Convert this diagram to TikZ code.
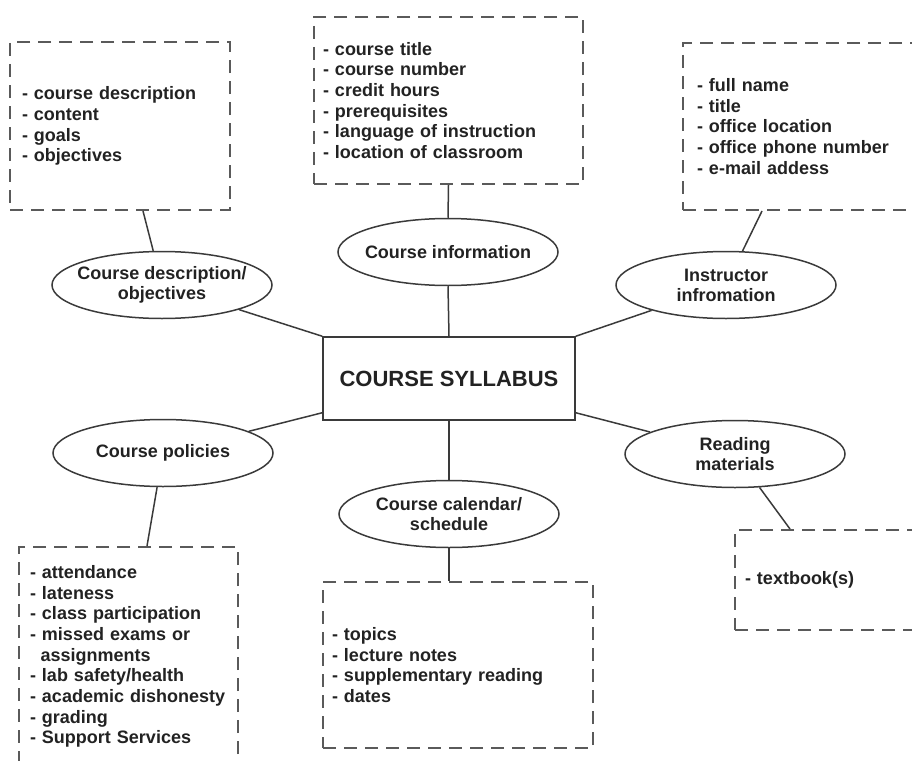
\documentclass[tikz,border=0pt]{standalone}
\usepackage{fontspec}
\setmainfont{Liberation Sans}
\usetikzlibrary{shapes.geometric}
\definecolor{ink}{HTML}{222222}
\definecolor{wire}{HTML}{3A3A3A}
\definecolor{dashgray}{HTML}{5A5A5A}
\begin{document}
\begin{tikzpicture}[x=1pt,y=-1pt,
  every node/.style={text=ink},
  listbox/.style={draw=dashgray, line width=2pt, dash pattern=on 13pt off 8pt,
    rectangle, align=left, inner ysep=0pt,
    font=\fontsize{18}{20.7}\selectfont\bfseries},
  bubble/.style={draw=wire, line width=1.5pt, ellipse,
    minimum width=220pt, minimum height=67pt, inner sep=0pt},
  bubbletext/.style={align=center, inner sep=0pt,
    font=\fontsize{18}{20}\selectfont\bfseries},
  hubbox/.style={draw=wire, line width=1.5pt, rectangle,
    minimum width=252pt, minimum height=83pt, inner sep=0pt,
    font=\fontsize{22}{26}\selectfont\bfseries},
  link/.style={draw=wire, line width=1.5pt}]

\useasboundingbox (0,0) rectangle (912,760);
\clip (0,0) rectangle (912,760);

% central box
\node[hubbox] (cs) at (449,378.5) {COURSE SYLLABUS};

% topic bubbles
\node[bubble] (descell) at (162,285) {};
\node[bubbletext] (desct) at (descell) {Course description/\\objectives};
\node[bubble] (infoell) at (448,252) {};
\node[bubbletext] (infot) at (infoell) {Course information};
\node[bubble] (instell) at (726,285) {};
\node[bubbletext] (instt) at (instell) {Instructor\\infromation};
\node[bubble] (polell) at (163,453) {};
\node[bubbletext] (polt) at (polell) {Course policies};
\node[bubble] (calell) at (449,514) {};
\node[bubbletext] (calt) at (calell) {Course calendar/\\schedule};
\node[bubble] (readell) at (735,454) {};
\node[bubbletext] (readt) at (readell) {Reading\\materials};

% detail lists
\node[listbox, text width=196pt, inner xsep=12pt, minimum height=168pt] (descbox) at (120,126)
  {- course description\\- content\\- goals\\- objectives};
\node[listbox, text width=251pt, inner xsep=9pt, minimum height=167pt] (infobox) at (448.5,100.5)
  {- course title\\- course number\\- credit hours\\- prerequisites\\- language of instruction\\- location of classroom};
\node[listbox, text width=229pt, inner xsep=14pt, minimum height=167pt] (instbox) at (811.5,126.5)
  {- full name\\- title\\- office location\\- office phone number\\- e-mail addess};
\node[listbox, text width=197pt, inner xsep=11pt, minimum height=219pt] (polbox) at (128.5,656.5)
  {- attendance\\- lateness\\- class participation\\- missed exams or\\\hspace*{10.5pt}assignments\\- lab safety/health\\- academic dishonesty\\- grading\\- Support Services};
\node[listbox, text width=252pt, inner xsep=9pt, minimum height=166pt] (calbox) at (458,665)
  {- topics\\- lecture notes\\- supplementary reading\\- dates};
\node[listbox, text width=180pt, inner xsep=10pt, minimum height=100pt] (readbox) at (835,580)
  {- textbook(s)};

% attachment points on the list boxes
\coordinate (descpin) at ([xshift=23pt]descbox.south);
\coordinate (instpin) at ([xshift=-49.5pt]instbox.south);
\coordinate (polpin) at ([xshift=18.5pt]polbox.north);
\coordinate (readpin) at ([xshift=-45pt]readbox.north);
\coordinate (csl) at ([yshift=8pt]cs.south west);
\coordinate (csr) at ([yshift=8pt]cs.south east);

% connectors
\draw[link] (descell) -- (cs.north west);
\draw[link] (instell) -- (cs.north east);
\draw[link] (infoell.south) -- (cs.north);
\draw[link] (polell) -- (csl);
\draw[link] (readell) -- (csr);
\draw[link] (cs.south) -- (calell.north);

\draw[link] (descell) -- (descpin);
\draw[link] (infobox.south) -- (infoell.north);
\draw[link] (instell) -- (instpin);
\draw[link] (polell) -- (polpin);
\draw[link] (calell.south) -- (calell.south |- calbox.north);
\draw[link] (readell) -- (readpin);
\end{tikzpicture}
\end{document}
